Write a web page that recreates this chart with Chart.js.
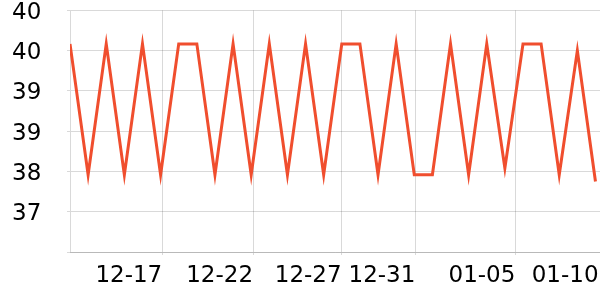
<!DOCTYPE html>
<html><head><meta charset="utf-8">
<script src="https://cdn.jsdelivr.net/npm/chart.js@4"></script>
<style>html,body{margin:0;padding:0;background:#fff}canvas{display:block}</style>
</head><body>
<canvas id="c" width="600" height="300"></canvas>
<script>
// series values, one per day starting 12-12
const values = [40.3,38.35,40.3,38.35,40.3,38.35,40.3,40.3,38.35,40.3,38.35,40.3,38.35,40.3,38.35,40.3,40.3,38.35,40.3,38.35,38.35,40.3,38.35,40.3,38.45,40.3,40.3,38.35,40.2,38.25];
// x tick values (in day-index units) and labels
const xTickValues = [5.09,10.10,14.99,19.06,24.58,29.17];
const xTickLabels = ['12-17','12-22','12-27','12-31','01-05','01-10'];
// y tick values and labels
const yTickValues = [40.8,40.2,39.6,39.0,38.4,37.8,37.2];
const yTickLabels = ['40','40','39','39','38','37',''];

const gridColor = 'rgba(0,0,0,0.15)';
const points = values.map((v,i)=>({x:i,y:v}));

new Chart(document.getElementById('c'), {
  type: 'line',
  data: { datasets: [{
    data: points,
    borderColor: 'rgb(240,78,46)',
    borderWidth: 3,
    pointRadius: 0,
    tension: 0,
    fill: false
  }]},
  options: {
    responsive: false,
    animation: false,
    devicePixelRatio: 1,
    layout: { padding: { left: 12, right: 0, top: 0, bottom: 0 } },
    plugins: { legend: { display: false }, tooltip: { enabled: false } },
    scales: {
      x: {
        type: 'linear',
        min: 0, max: 29.25,
        afterBuildTicks: s => { s.ticks = xTickValues.map(v=>({value:v})); },
        afterFit: s => { s.height = 48; },
        grid: { color: c => (c.index === xTickValues.length-1 ? 'rgba(0,0,0,0)' : gridColor), tickLength: 3 },
        border: { display: true, color: gridColor },
        ticks: {
          align: 'end', padding: 0, maxRotation: 0, minRotation: 0, autoSkip: false,
          color: '#000',
          font: { family: 'DejaVu Sans', size: 23, lineHeight: 1.8 },
          callback: (v) => { const i = xTickValues.indexOf(v); return i >= 0 ? xTickLabels[i] : ''; }
        }
      },
      y: {
        min: 37.2, max: 40.8,
        afterBuildTicks: s => { s.ticks = yTickValues.map(v=>({value:v})); },
        afterFit: s => { s.width = 58; },
        grid: { color: gridColor, tickLength: 3 },
        border: { display: true, color: gridColor },
        ticks: {
          crossAlign: 'far', padding: 0, labelOffset: 2.5,
          color: '#000',
          font: { family: 'DejaVu Sans', size: 23, lineHeight: 0.9 },
          callback: (v) => { const i = yTickValues.findIndex(t => Math.abs(t - v) < 1e-6); return i >= 0 ? yTickLabels[i] : ''; }
        }
      }
    }
  }
});
</script>
</body></html>
